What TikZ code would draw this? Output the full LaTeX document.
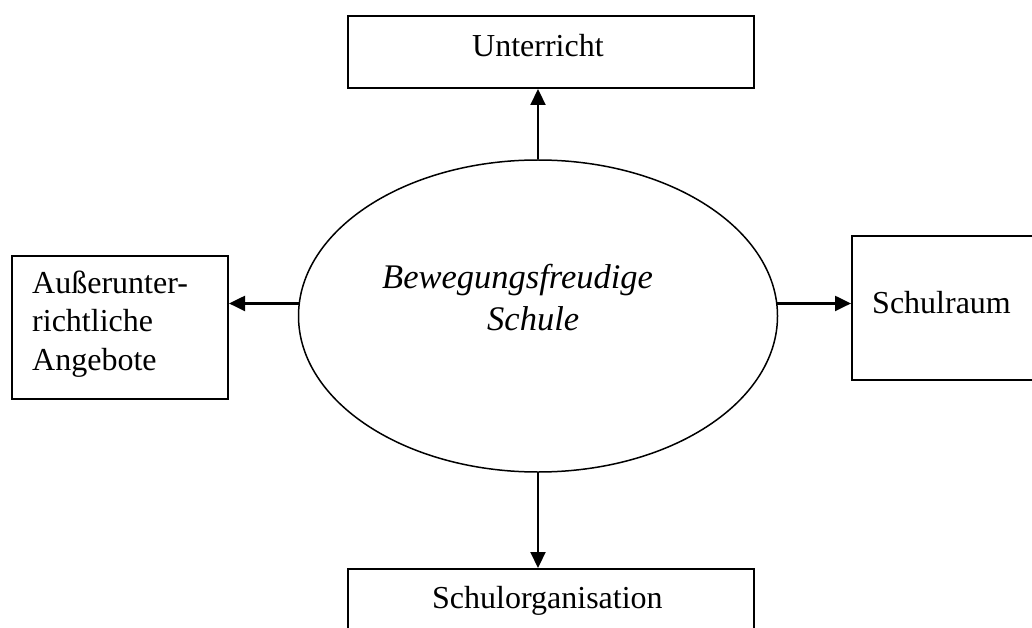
\documentclass[tikz,border=0pt]{standalone}
\usepackage{fontspec}
\setmainfont{Liberation Serif}
\usetikzlibrary{shapes.geometric,arrows.meta}
\tikzset{
  boxnode/.style={draw, line width=2pt, rectangle, inner sep=0pt, anchor=north west},
  txt/.style={inner sep=0pt, anchor=base west, font=\fontsize{32}{38.5}\selectfont},
  itxt/.style={inner sep=0pt, anchor=base west, font=\fontsize{34.5}{40}\selectfont\itshape},
  ellnode/.style={draw, line width=1.5pt, ellipse, inner sep=0pt, minimum width=479pt, minimum height=312pt},
  arr/.style={line width=2.2pt, -{Triangle[length=16pt,width=15pt]}}
}
\begin{document}
\begin{tikzpicture}[x=1pt,y=-1pt]
\clip (0,0) rectangle (1032,628);
\fill[white] (0,0) rectangle (1032,628);
% boxes
\node[boxnode, minimum width=406pt, minimum height=72pt] (top) at (347,15) {};
\node[boxnode, minimum width=216pt, minimum height=143pt] (left) at (11,255) {};
\node[boxnode, minimum width=220pt, minimum height=144pt] (right) at (851,235) {};
\node[boxnode, minimum width=406pt, minimum height=100pt] (bottom) at (347,568) {};
% ellipse
\node[ellnode] (ell) at (538,316) {};
% texts
\node[txt] (ttop) at (472,57) {Unterricht};
\node[txt, align=left] (tleft) at (32,370) {Außerunter-\\richtliche\\Angebote};
\node[txt] (tright) at (872,313) {Schulraum};
\node[txt] (tbottom) at (432,608) {Schulorganisation};
\node[itxt] (tell1) at (382,288) {Bewegungsfreudige};
\node[itxt] (tell2) at (487,330) {Schule};
% arrows
\draw[arr] (ell.north) -- (ell.north |- top.south);
\draw[arr] (ell.south) -- (ell.south |- bottom.north);
\draw[arr] (ell.177) -- (ell.177 -| left.east);
\draw[arr] (ell.3) -- (ell.3 -| right.west);
\end{tikzpicture}
\end{document}
